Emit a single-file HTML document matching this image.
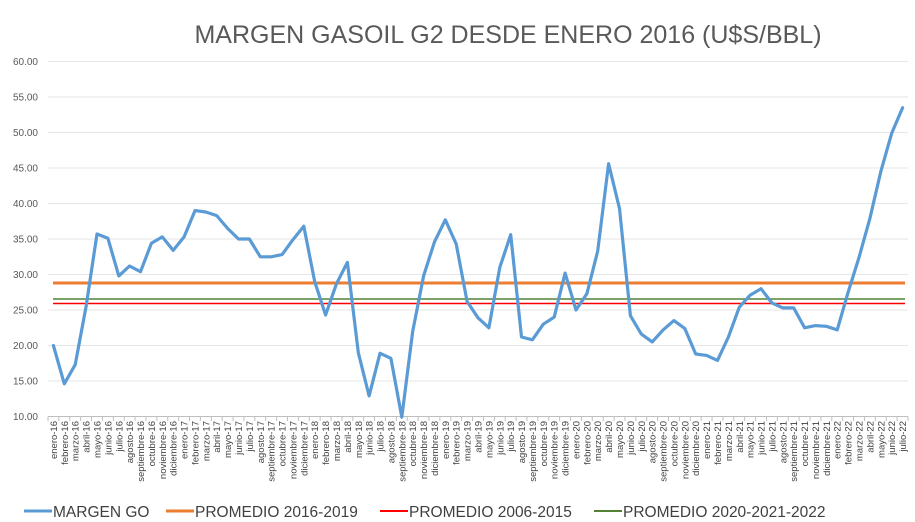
<!DOCTYPE html>
<html><head><meta charset="utf-8"><style>
html,body{margin:0;padding:0;background:#fff;}
svg{display:block;font-family:"Liberation Sans",sans-serif;}
</style></head><body>
<svg id="c" width="915" height="522" viewBox="0 0 915 522">
<text x="508" y="43" text-anchor="middle" font-size="25" fill="#595959">MARGEN GASOIL G2 DESDE ENERO 2016 (U$S/BBL)</text>
<g id="grid" stroke="#e6e6e6" stroke-width="1"></g>
<g id="yl" font-size="10" fill="#595959" text-anchor="end">
<text>60.00</text><text>55.00</text><text>50.00</text><text>45.00</text><text>40.00</text><text>35.00</text><text>30.00</text><text>25.00</text><text>20.00</text><text>15.00</text><text>10.00</text>
</g>
<line x1="48" y1="416.5" x2="908" y2="416.5" stroke="#bfbfbf"/>
<g id="ticks" stroke="#bfbfbf"></g>
<line x1="53" y1="283" x2="905" y2="283" stroke="#ed7d31" stroke-width="3"/>
<line x1="53" y1="299" x2="905" y2="299" stroke="#548235" stroke-width="1.6"/>
<line x1="53" y1="303.5" x2="905" y2="303.5" stroke="#ff0000" stroke-width="1.6"/>
<polyline id="pl" fill="none" stroke="#5b9bd5" stroke-width="3.2" stroke-linejoin="round" stroke-linecap="round"/>
<g id="xl" font-size="9.5" fill="#404040" text-anchor="end">
<text>enero-16</text><text>febrero-16</text><text>marzo-16</text><text>abril-16</text><text>mayo-16</text><text>junio-16</text><text>julio-16</text><text>agosto-16</text><text>septiembre-16</text><text>octubre-16</text><text>noviembre-16</text><text>diciembre-16</text>
<text>enero-17</text><text>febrero-17</text><text>marzo-17</text><text>abril-17</text><text>mayo-17</text><text>junio-17</text><text>julio-17</text><text>agosto-17</text><text>septiembre-17</text><text>octubre-17</text><text>noviembre-17</text><text>diciembre-17</text>
<text>enero-18</text><text>febrero-18</text><text>marzo-18</text><text>abril-18</text><text>mayo-18</text><text>junio-18</text><text>julio-18</text><text>agosto-18</text><text>septiembre-18</text><text>octubre-18</text><text>noviembre-18</text><text>diciembre-18</text>
<text>enero-19</text><text>febrero-19</text><text>marzo-19</text><text>abril-19</text><text>mayo-19</text><text>junio-19</text><text>julio-19</text><text>agosto-19</text><text>septiembre-19</text><text>octubre-19</text><text>noviembre-19</text><text>diciembre-19</text>
<text>enero-20</text><text>febrero-20</text><text>marzo-20</text><text>abril-20</text><text>mayo-20</text><text>junio-20</text><text>julio-20</text><text>agosto-20</text><text>septiembre-20</text><text>octubre-20</text><text>noviembre-20</text><text>diciembre-20</text>
<text>enero-21</text><text>febrero-21</text><text>marzo-21</text><text>abril-21</text><text>mayo-21</text><text>junio-21</text><text>julio-21</text><text>agosto-21</text><text>septiembre-21</text><text>octubre-21</text><text>noviembre-21</text><text>diciembre-21</text>
<text>enero-22</text><text>febrero-22</text><text>marzo-22</text><text>abril-22</text><text>mayo-22</text><text>junio-22</text><text>julio-22</text>
</g>
<g font-size="15.5" fill="#404040">
<line x1="24" y1="511" x2="52" y2="511" stroke="#5b9bd5" stroke-width="3"/>
<text x="53" y="517">MARGEN GO</text>
<line x1="166" y1="511" x2="194" y2="511" stroke="#ed7d31" stroke-width="3"/>
<text x="195" y="517">PROMEDIO 2016-2019</text>
<line x1="380" y1="511" x2="408" y2="511" stroke="#ff0000" stroke-width="2"/>
<text x="409" y="517">PROMEDIO 2006-2015</text>
<line x1="594" y1="511" x2="622" y2="511" stroke="#548235" stroke-width="2"/>
<text x="623" y="517">PROMEDIO 2020-2021-2022</text>
</g>
</svg>
<script>
var d=[20.0,14.6,17.3,25.5,35.7,35.1,29.8,31.2,30.4,34.4,35.3,33.4,35.3,39.0,38.8,38.3,36.5,35.0,35.0,32.5,32.5,32.8,34.9,36.8,29.0,24.3,28.7,31.7,19.0,12.9,18.9,18.2,9.9,22.0,29.8,34.6,37.7,34.3,26.2,23.9,22.5,31.0,35.6,21.2,20.8,23.0,24.0,30.2,25.0,27.3,33.3,45.6,39.3,24.2,21.6,20.5,22.2,23.5,22.4,18.8,18.6,17.9,21.2,25.4,27.1,28.0,26.0,25.3,25.3,22.5,22.8,22.7,22.2,27.5,32.4,37.9,44.5,49.9,53.5];
var ns="http://www.w3.org/2000/svg",w=860/79;
function Y(v){return 416.5-(v-10)*7.1;}
var g=document.getElementById('grid');
for(var i=0;i<10;i++){var l=document.createElementNS(ns,'line');var y=Y(60-5*i);l.setAttribute('x1',48);l.setAttribute('x2',908);l.setAttribute('y1',y);l.setAttribute('y2',y);g.appendChild(l);}
var yl=document.getElementById('yl').children;
for(var i=0;i<yl.length;i++){yl[i].setAttribute('x',38);yl[i].setAttribute('y',Y(60-5*i)+3.5);}
var tk=document.getElementById('ticks');
for(var i=0;i<=79;i++){var l=document.createElementNS(ns,'line');var x=48+i*w;l.setAttribute('x1',x);l.setAttribute('x2',x);l.setAttribute('y1',416.5);l.setAttribute('y2',421);tk.appendChild(l);}
var p=d.map(function(v,i){return (48+w/2+i*w).toFixed(1)+','+Y(v).toFixed(1);}).join(' ');
document.getElementById('pl').setAttribute('points',p);
var xl=document.getElementById('xl').children;
for(var i=0;i<xl.length;i++){var x=48+w/2+i*w+3.5;xl[i].setAttribute('transform','translate('+x+',421) rotate(-90)');}
</script>
</body></html>
